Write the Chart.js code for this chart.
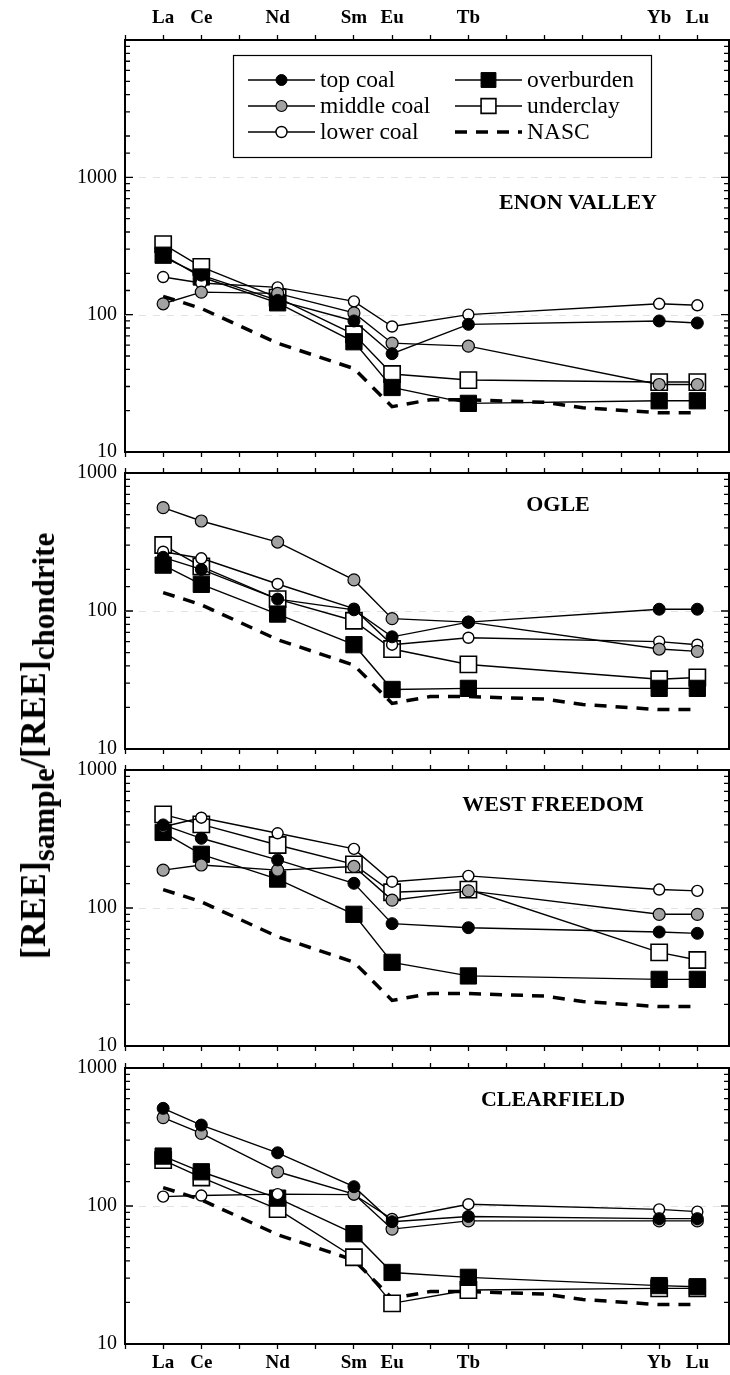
<!DOCTYPE html>
<html>
<head>
<meta charset="utf-8">
<script src="https://cdn.jsdelivr.net/npm/chart.js@4.4.1/dist/chart.umd.min.js"></script>
<style>
  html, body { margin: 0; padding: 0; background: #fff; }
  #wrap { position: relative; width: 730px; height: 1375px; overflow: hidden; }
  #wrap canvas { position: absolute; left: 0; }
  #ytitle {
    position: absolute; left: 33px; top: 746px;
    transform: translate(-50%, -50%) rotate(-90deg);
    white-space: nowrap; color: #000;
    font-family: 'Liberation Serif', 'DejaVu Serif', serif;
    font-weight: bold; font-size: 36px;
  }
  #ytitle sub { font-size: 31px; vertical-align: baseline; position: relative; top: 0.3em; }
</style>
</head>
<body>
<div id="wrap">
  <canvas id="enon" width="730" height="462" style="top:0px"></canvas>
  <canvas id="ogle" width="730" height="296" style="top:463px"></canvas>
  <canvas id="westFreedom" width="730" height="296" style="top:760px"></canvas>
  <canvas id="clearfield" width="730" height="317" style="top:1058px"></canvas>
  <div id="ytitle">[REE]<sub>sample</sub>/[REE]<sub>chondrite</sub></div>
</div>
<script>
// REE plotted against atomic number
const elements = ['La', 'Ce', 'Nd', 'Sm', 'Eu', 'Tb', 'Yb', 'Lu'];
const atomicNumbers = [57, 58, 60, 62, 63, 65, 70, 71];
const axisTicks = [56, 57, 58, 59, 60, 61, 62, 63, 64, 65, 66, 67, 68, 69, 70, 71];
const yLabels = [10, 100, 1000];

// NASC reference curve (same in every panel)
const nascX = [57, 58, 60, 62, 63, 64, 65, 67, 68, 70, 71];
const nascValues = [136, 111, 62, 40.5, 21.4, 24, 24, 23, 21, 19.3, 19.3];

// Enon Valley
const enonTop = [264, 194, 127, 90, 52, 85, 90, 87];
const enonMiddle = [120, 146, 143, 103, 62, 59, 31, 31];
const enonLower = [188, 170, 158, 125, 82, 100, 120, 117];
const enonOverburden = [271, 188, 122, 63.5, 29.5, 22.6, 23.6, 23.6];
const enonUnderclay = [326, 223, 133, 72, 37, 33.4, 32.3, 32.3];

// Ogle
const ogleTop = [245, 200, 122, 102, 65, 83, 103, 103];
const ogleMiddle = [561, 449, 316, 168, 88, 83, 53, 51];
const ogleLower = [269, 241, 157, 104, 57, 64, 60, 57];
const ogleOverburden = [215, 156, 95, 57, 27, 27.5, 27.5, 27.5];
const ogleUnderclay = [301, 210, 122, 85, 53, 41, 32, 33];

// West Freedom
const wfTop = [400, 320, 223, 151, 77, 72, 67, 65.5];
const wfMiddle = [188, 205, 188, 200, 114, 133, 90, 90];
const wfLower = [388, 451, 348, 268, 155, 171, 136, 133];
const wfOverburden = [353, 245, 162, 90, 40.4, 32.2, 30.4, 30.4];
const wfUnderclay = [477, 404, 286, 207, 130, 136, 47.7, 42];

// Clearfield
const cfTop = [510, 386, 243, 138, 77, 84, 81, 81];
const cfMiddle = [437, 336, 177, 122, 68, 78, 78, 78];
const cfLower = [117, 119, 122, 121, 80.5, 103, 94.6, 91];
const cfOverburden = [230, 177, 114, 63, 33, 30.4, 26.5, 26];
const cfUnderclay = [215, 161, 95, 42.5, 19.7, 24.6, 25.3, 25.3];

const FONT = "'Liberation Serif', 'DejaVu Serif', serif";

const styles = {
  top:    { pointStyle: 'circle', pointRadius: 6, pointBackgroundColor: '#000', pointBorderColor: '#000', pointBorderWidth: 1 },
  middle: { pointStyle: 'circle', pointRadius: 6, pointBackgroundColor: '#a2a2a2', pointBorderColor: '#000', pointBorderWidth: 1.2 },
  lower:  { pointStyle: 'circle', pointRadius: 5.5, pointBackgroundColor: '#fff', pointBorderColor: '#000', pointBorderWidth: 1.4 },
  over:   { pointStyle: 'rect', pointRadius: 11.5, pointBackgroundColor: '#000', pointBorderColor: '#000', pointBorderWidth: 1 },
  under:  { pointStyle: 'rect', pointRadius: 11.5, pointBackgroundColor: '#fff', pointBorderColor: '#000', pointBorderWidth: 1.6 }
};

function pts(xs, ys) {
  return ys.map((v, i) => ({ x: xs[i], y: v }));
}

function series(label, values, st) {
  return Object.assign({
    label: label,
    data: pts(atomicNumbers, values),
    borderColor: '#000',
    borderWidth: 1.4,
    pointHoverRadius: st.pointRadius,
    clip: false
  }, st);
}

function makeDatasets(top, middle, lower, over, under) {
  return [
    series('top coal', top, styles.top),
    series('middle coal', middle, styles.middle),
    series('lower coal', lower, styles.lower),
    series('overburden', over, styles.over),
    series('underclay', under, styles.under),
    {
      label: 'NASC',
      data: pts(nascX, nascValues),
      borderColor: '#000',
      borderWidth: 3.5,
      borderDash: [12, 9],
      pointRadius: 0,
      clip: false
    }
  ];
}

function drawLegend(chart, box) {
  const ctx = chart.ctx;
  ctx.save();
  ctx.setLineDash([]);
  ctx.lineWidth = 1.2;
  ctx.strokeStyle = '#000';
  ctx.strokeRect(box.x + 0.5, box.y + 0.5, box.w, box.h);
  chart.data.datasets.forEach((ds, i) => {
    const lx = box.cols[Math.floor(i / 3)];
    const cy = box.rows[i % 3];
    ctx.strokeStyle = '#000';
    ctx.lineWidth = ds.borderWidth;
    ctx.setLineDash(ds.borderDash || []);
    ctx.beginPath();
    ctx.moveTo(lx, cy);
    ctx.lineTo(lx + box.lineLen, cy);
    ctx.stroke();
    ctx.setLineDash([]);
    if (ds.pointRadius > 0) {
      ctx.fillStyle = ds.pointBackgroundColor;
      ctx.strokeStyle = ds.pointBorderColor;
      ctx.lineWidth = ds.pointBorderWidth;
      Chart.helpers.drawPoint(ctx, {
        pointStyle: ds.pointStyle,
        radius: ds.pointStyle === 'rect' ? 10.5 : 5.5,
        rotation: 0,
        borderWidth: ds.pointBorderWidth
      }, lx + box.lineLen / 2, cy);
    }
    ctx.fillStyle = '#000';
    ctx.font = '23.5px ' + FONT;
    ctx.textAlign = 'left';
    ctx.textBaseline = 'middle';
    ctx.fillText(ds.label, lx + box.lineLen + box.gap, cy + 1);
  });
  ctx.restore();
}

const panelPlugin = {
  id: 'panel',
  beforeDatasetsDraw(chart) {
    const { ctx, chartArea: a } = chart;
    const y = chart.scales.y;
    ctx.save();
    ctx.strokeStyle = '#e2e2e2';
    ctx.lineWidth = 1;
    ctx.setLineDash([7, 7]);
    yLabels.forEach(v => {
      const p = Math.round(y.getPixelForValue(v)) + 0.5;
      if (p > a.top + 2 && p < a.bottom - 2) {
        ctx.beginPath();
        ctx.moveTo(a.left, p);
        ctx.lineTo(a.right, p);
        ctx.stroke();
      }
    });
    ctx.restore();
  },
  afterDraw(chart, args, o) {
    const { ctx, chartArea: a } = chart;
    const y = chart.scales.y;
    ctx.save();
    ctx.strokeStyle = '#000';
    ctx.lineWidth = 1.3;
    // inward ticks on both vertical edges
    y.ticks.forEach(t => {
      const p = y.getPixelForValue(t.value);
      if (p < a.top + 1 || p > a.bottom - 1) return;
      const lg = Math.log10(t.value);
      const len = Math.abs(lg - Math.round(lg)) < 1e-6 ? 8 : 5;
      ctx.beginPath();
      ctx.moveTo(a.left, p);
      ctx.lineTo(a.left + len, p);
      ctx.moveTo(a.right, p);
      ctx.lineTo(a.right - len, p);
      ctx.stroke();
    });
    ctx.lineWidth = 2;
    ctx.beginPath();
    ctx.moveTo(a.right, a.top);
    ctx.lineTo(a.right, a.bottom);
    ctx.stroke();
    // panel name
    ctx.fillStyle = '#000';
    ctx.font = 'bold 22px ' + FONT;
    ctx.textAlign = 'center';
    ctx.textBaseline = 'middle';
    ctx.fillText(o.title, o.titleX, a.top + o.titleDy);
    ctx.restore();
    if (o.legend) drawLegend(chart, o.legend);
  }
};

function xAxis(position, height, showLabels, pad) {
  return {
    type: 'linear',
    position: position,
    min: 56,
    max: 71.83,
    afterBuildTicks: s => { s.ticks = axisTicks.map(v => ({ value: v })); },
    ticks: {
      autoSkip: false,
      maxRotation: 0,
      padding: pad,
      color: '#000',
      font: { family: FONT, size: 19, weight: 'bold' },
      callback: v => {
        if (!showLabels) return '';
        const i = atomicNumbers.indexOf(v);
        return i >= 0 ? elements[i] : '';
      }
    },
    grid: { drawOnChartArea: false, drawTicks: true, tickLength: 5, color: '#000', tickWidth: 1.3 },
    border: { display: true, color: '#000', width: 2 },
    afterFit: s => { s.height = height; s.paddingLeft = 0; s.paddingRight = 0; }
  };
}

function makePanel(canvasId, cfg, datasets) {
  const ctx = document.getElementById(canvasId).getContext('2d');
  return new Chart(ctx, {
    type: 'line',
    data: { datasets: datasets },
    options: {
      responsive: false,
      animation: false,
      devicePixelRatio: 1,
      layout: { autoPadding: false, padding: { left: 0, right: 1, top: 0, bottom: 0 } },
      elements: { line: { tension: 0 } },
      plugins: {
        legend: { display: false },
        tooltip: { enabled: false },
        panel: { title: cfg.title, titleX: cfg.titleX, titleDy: cfg.titleDy, legend: cfg.legend || null }
      },
      scales: {
        x: xAxis('bottom', cfg.bottomH, cfg.bottomLabels, 3),
        x2: xAxis('top', cfg.topH, cfg.topLabels, 6),
        y: {
          type: 'logarithmic',
          position: 'left',
          min: 10,
          max: cfg.yMax,
          ticks: {
            autoSkip: false,
            padding: 8,
            color: '#000',
            font: { family: FONT, size: 20 },
            callback: v => {
              const l = yLabels.find(k => Math.abs(v - k) / k < 1e-6);
              return l ? String(l) : '';
            }
          },
          grid: { display: false, drawTicks: false },
          border: { display: true, color: '#000', width: 2 },
          afterFit: s => { s.width = 125; s.paddingTop = 0; s.paddingBottom = 0; }
        }
      }
    },
    plugins: [panelPlugin]
  });
}

makePanel('enon', {
  title: 'ENON VALLEY', titleX: 578, titleDy: 163, yMax: 10000,
  topH: 40, bottomH: 10, topLabels: true, bottomLabels: false,
  legend: { x: 233, y: 55, w: 418, h: 102, cols: [248, 455], rows: [80, 106, 132], lineLen: 67, gap: 5 }
}, makeDatasets(enonTop, enonMiddle, enonLower, enonOverburden, enonUnderclay));

makePanel('ogle', {
  title: 'OGLE', titleX: 558, titleDy: 32, yMax: 1000,
  topH: 10, bottomH: 10, topLabels: false, bottomLabels: false
}, makeDatasets(ogleTop, ogleMiddle, ogleLower, ogleOverburden, ogleUnderclay));

makePanel('westFreedom', {
  title: 'WEST FREEDOM', titleX: 553, titleDy: 35, yMax: 1000,
  topH: 10, bottomH: 10, topLabels: false, bottomLabels: false
}, makeDatasets(wfTop, wfMiddle, wfLower, wfOverburden, wfUnderclay));

makePanel('clearfield', {
  title: 'CLEARFIELD', titleX: 553, titleDy: 32, yMax: 1000,
  topH: 10, bottomH: 31, topLabels: false, bottomLabels: true
}, makeDatasets(cfTop, cfMiddle, cfLower, cfOverburden, cfUnderclay));
</script>
</body>
</html>
